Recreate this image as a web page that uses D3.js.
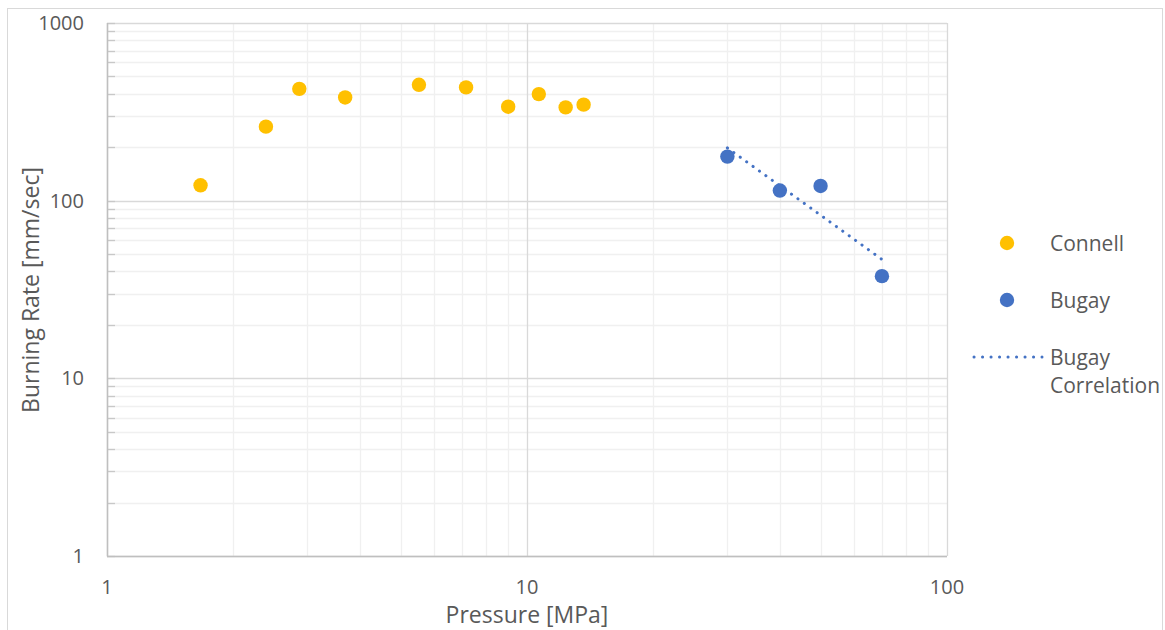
<!DOCTYPE html>
<html><head><meta charset="utf-8">
<script src="https://cdn.jsdelivr.net/npm/d3@7"></script>
<style>body{margin:0;background:#fff;} text{font-family:"Open Sans",sans-serif;fill:#595959;}</style>
</head><body><svg id="c" width="1165" height="630"></svg>
<script>
const connellP = [1.67, 2.39, 2.87, 3.69, 5.53, 7.16, 9.02, 10.67, 12.36, 13.64];
const connellR = [122, 261, 426, 381, 449, 434, 338, 398, 335, 347];
const bugayP = [30, 40, 50, 70];
const bugayR = [177, 114, 121, 37.6];
const corrP = [30, 70];
const corrR = [198, 46.7];
const xTicks = [1, 10, 100];
const yTicks = [1, 10, 100, 1000];
const legendNames = ["Connell", "Bugay", ["Bugay", "Correlation"]];

const svg = d3.select("#c");
const L = 107, R = 947, T = 23, B = 556;
const x = d3.scaleLog().domain([1, 100]).range([L, R]);
const y = d3.scaleLog().domain([1, 1000]).range([B, T]);

svg.append("rect").attr("x", 7.5).attr("y", 8.5).attr("width", 1155).attr("height", 640)
  .attr("fill", "none").attr("stroke", "#d9d9d9");

const minors = (lo, hi) => { const a = []; for (let d = lo; d < hi; d *= 10) for (let k = 2; k <= 9; k++) a.push(d * k); return a; };
const xMinor = minors(1, 100), yMinor = minors(1, 1000);
const g = svg.append("g");
g.selectAll(".xm").data(xMinor).join("line").attr("x1", d => Math.round(x(d)) + 0.5).attr("x2", d => Math.round(x(d)) + 0.5)
  .attr("y1", T).attr("y2", B).attr("stroke", "#f0f0f0").attr("stroke-width", 1.3);
g.selectAll(".ym").data(yMinor).join("line").attr("y1", d => Math.round(y(d)) + 0.5).attr("y2", d => Math.round(y(d)) + 0.5)
  .attr("x1", L).attr("x2", R).attr("stroke", "#f0f0f0").attr("stroke-width", 1.3);
g.selectAll(".xM").data(xTicks).join("line").attr("x1", d => Math.round(x(d)) + 0.5).attr("x2", d => Math.round(x(d)) + 0.5)
  .attr("y1", T).attr("y2", B).attr("stroke", "#d9d9d9").attr("stroke-width", 1.3);
g.selectAll(".yM").data(yTicks).join("line").attr("y1", d => Math.round(y(d)) + 0.5).attr("y2", d => Math.round(y(d)) + 0.5)
  .attr("x1", L).attr("x2", R).attr("stroke", "#d9d9d9").attr("stroke-width", 1.3);
g.selectAll(".yt").data(yMinor.concat(yTicks)).join("line").attr("y1", d => Math.round(y(d)) + 0.5).attr("y2", d => Math.round(y(d)) + 0.5)
  .attr("x1", L).attr("x2", L + 8).attr("stroke", "#c8c8c8").attr("stroke-width", 1.3);
svg.append("line").attr("x1", L + 0.5).attr("x2", L + 0.5).attr("y1", T).attr("y2", B + 0.5).attr("stroke", "#bfbfbf").attr("stroke-width", 1.5);
svg.append("line").attr("x1", L).attr("x2", R).attr("y1", B + 0.5).attr("y2", B + 0.5).attr("stroke", "#bfbfbf").attr("stroke-width", 1.5);

svg.selectAll(".xl").data(xTicks).join("text").attr("x", d => x(d)).attr("y", 594)
  .attr("text-anchor", "middle").attr("font-size", 20).text(d => d);
svg.selectAll(".yl").data(yTicks).join("text").attr("x", 84).attr("y", d => y(d) + 7)
  .attr("text-anchor", "end").attr("font-size", 20).text(d => d);

svg.append("text").attr("x", 527).attr("y", 623).attr("text-anchor", "middle").attr("font-size", 23).text("Pressure [MPa]");
svg.append("text").attr("transform", "translate(39,290) rotate(-90)").attr("text-anchor", "middle").attr("font-size", 23).text("Burning Rate [mm/sec]");

const line = d3.line().x(d => x(d[0])).y(d => y(d[1]));
svg.append("path").datum(corrP.map((p, i) => [p, corrR[i]])).attr("d", line)
  .attr("fill", "none").attr("stroke", "#4472C4").attr("stroke-width", 3)
  .attr("stroke-linecap", "round").attr("stroke-dasharray", "0.1 7.8");

svg.selectAll(".cn").data(connellP.map((p, i) => [p, connellR[i]])).join("circle")
  .attr("cx", d => x(d[0])).attr("cy", d => y(d[1])).attr("r", 7.2).attr("fill", "#FFC000");
svg.selectAll(".bg").data(bugayP.map((p, i) => [p, bugayR[i]])).join("circle")
  .attr("cx", d => x(d[0])).attr("cy", d => y(d[1])).attr("r", 7.2).attr("fill", "#4472C4");

const lg = svg.append("g");
lg.append("circle").attr("cx", 1007).attr("cy", 243).attr("r", 7.2).attr("fill", "#FFC000");
lg.append("circle").attr("cx", 1007).attr("cy", 300).attr("r", 7.2).attr("fill", "#4472C4");
lg.append("line").attr("x1", 974).attr("x2", 1042).attr("y1", 357).attr("y2", 357)
  .attr("stroke", "#4472C4").attr("stroke-width", 3).attr("stroke-linecap", "round").attr("stroke-dasharray", "0.1 8.4");
lg.append("text").attr("x", 1050).attr("y", 251).attr("font-size", 21).text(legendNames[0]);
lg.append("text").attr("x", 1050).attr("y", 308).attr("font-size", 21).text(legendNames[1]);
lg.append("text").attr("x", 1050).attr("y", 365).attr("font-size", 21).text(legendNames[2][0]);
lg.append("text").attr("x", 1050).attr("y", 393).attr("font-size", 21).text(legendNames[2][1]);
</script></body></html>
